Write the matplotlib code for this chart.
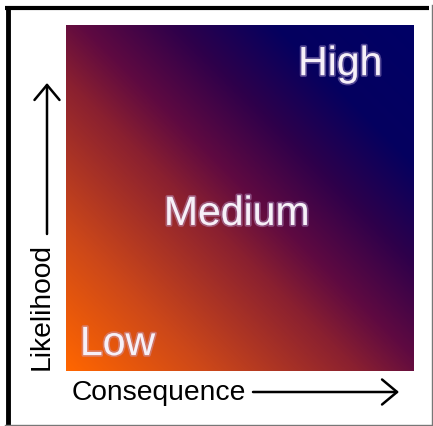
import matplotlib
matplotlib.use('Agg')
import matplotlib.pyplot as plt
import matplotlib.patheffects as pe
from matplotlib.colors import LinearSegmentedColormap
import numpy as np

# gradient stops (position along diagonal, colour)
stop_pos = [0.0, 0.2, 0.42, 0.52, 0.66, 0.8, 1.0]
stop_col = ['#ff6600', '#cd4819', '#8a2030', '#5f0a41', '#2d004b', '#05005f', '#000066']

# zone labels and where they sit in the square (0..1)
zone_labels = ['Low', 'Medium', 'High']
zone_x = [0.04, 0.491, 0.667]
zone_y = [0.046, 0.422, 0.855]
zone_ha = ['left', 'center', 'left']

x_label = 'Consequence'
y_label = 'Likelihood'

plt.rcParams['font.family'] = ['Liberation Sans', 'DejaVu Sans']

W, H = 433, 426
fig = plt.figure(figsize=(W / 100, H / 100), dpi=100)

# full-figure overlay in pixel coords for frame, arrows and labels
bg = fig.add_axes([0, 0, 1, 1])
bg.set_xlim(0, W)
bg.set_ylim(H, 0)
bg.axis('off')

# frame
bg.plot([5, 429], [8, 8], color='black', lw=3.0, solid_capstyle='butt')
bg.plot([7.5, 7.5], [6.5, 426], color='black', lw=3.5, solid_capstyle='butt')
bg.plot([431.5, 431.5], [5, 426], color='#777777', lw=1.0)
bg.plot([5, 433], [424.5, 424.5], color='#777777', lw=1.0)

# axis labels with arrows
bg.text(72, 400, x_label, fontsize=20.3, ha='left', va='baseline', color='black')
bg.annotate('', xy=(399, 392), xytext=(253, 392),
            arrowprops=dict(arrowstyle='->,head_length=0.6,head_width=0.5',
                            lw=1.8, color='black', mutation_scale=18,
                            shrinkA=0, shrinkB=0))
bg.text(55, 370, y_label, fontsize=20.3, rotation=90, ha='left', va='bottom',
        rotation_mode='anchor', color='black')
bg.annotate('', xy=(47, 83), xytext=(47, 234),
            arrowprops=dict(arrowstyle='->,head_length=0.6,head_width=0.5',
                            lw=1.8, color='black', mutation_scale=18,
                            shrinkA=0, shrinkB=0))

# gradient square
ax = fig.add_axes([66 / W, (H - 371) / H, 348 / W, 346 / H])
cmap = LinearSegmentedColormap.from_list('risk', list(zip(stop_pos, stop_col)))
g = np.linspace(0, 1, 300)
X, Y = np.meshgrid(g, g)
ax.imshow((X + Y) / 2, cmap=cmap, origin='lower', extent=[0, 1, 0, 1],
          aspect='auto', vmin=0, vmax=1, interpolation='bilinear')
ax.set_xlim(0, 1)
ax.set_ylim(0, 1)
ax.axis('off')

for lab, x, y, ha in zip(zone_labels, zone_x, zone_y, zone_ha):
    ax.text(x, y, lab, fontsize=29.5, ha=ha, va='baseline', color='#f6f0f8',
            path_effects=[pe.withStroke(linewidth=2.5, foreground='#c8b0e0', alpha=0.4)])

fig.savefig('out.png', dpi=100)
